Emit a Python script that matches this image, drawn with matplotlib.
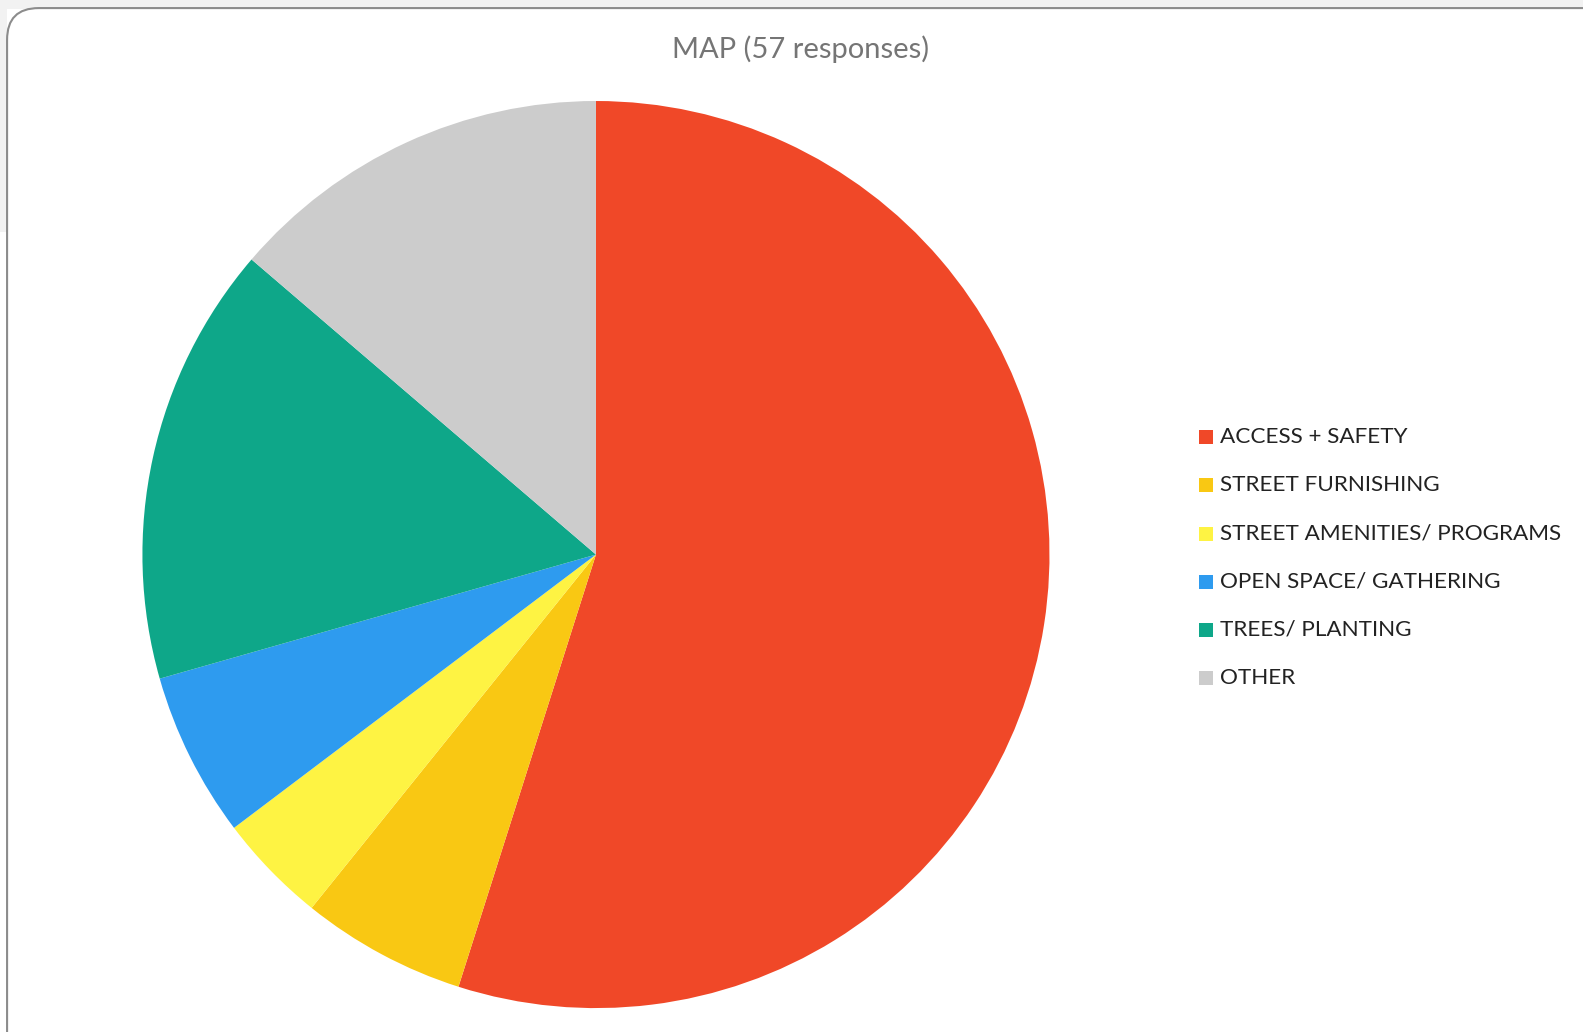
import matplotlib
matplotlib.use("Agg")
import matplotlib.pyplot as plt
from matplotlib.patches import FancyBboxPatch, Rectangle

# data
labels = ["ACCESS + SAFETY", "STREET FURNISHING", "STREET AMENITIES/ PROGRAMS",
          "OPEN SPACE/ GATHERING", "TREES/ PLANTING", "OTHER"]
counts = [28, 3, 2, 3, 8, 7]
colors = ["#F04828", "#F9C813", "#FEF343", "#2E9BEF", "#0EA789", "#CCCCCC"]
title = "MAP (57 responses)"

W, H = 1583, 1032
k = 1 / 0.99  # measured positions -> pixel positions
fig = plt.figure(figsize=(W / 100, H / 100), dpi=100)
plt.rcParams['font.family'] = ['Lato', 'DejaVu Sans']

# background bits outside the card
fig.patches.append(Rectangle((0, (H - 9 * k) / H), 1, 9 * k / H, transform=fig.transFigure,
                             facecolor="#F2F2F2", edgecolor="none", zorder=-3))
fig.patches.append(Rectangle((0, (H - 230 * k) / H), 7 * k / W, 230 * k / H, transform=fig.transFigure,
                             facecolor="#F2F2F2", edgecolor="none", zorder=-3))
# rounded card border
fig.patches.append(FancyBboxPatch((7 * k / W, -40 / H), (W + 40) / W, (H + 40 - 8 * k) / H,
                                  boxstyle="round,pad=0,rounding_size=0.02",
                                  transform=fig.transFigure, mutation_aspect=W / H,
                                  facecolor="white", edgecolor="#8C8C8C", lw=1.5, zorder=-2))

cx, cy, r = 590 * k, 549 * k, 449 * k
ax = fig.add_axes([(cx - r) / W, (H - cy - r) / H, 2 * r / W, 2 * r / H])
ax.pie(counts, colors=colors, startangle=90, counterclock=False, radius=1,
       wedgeprops=dict(linewidth=0))
ax.set_xlim(-1, 1)
ax.set_ylim(-1, 1)
ax.set_aspect("equal")
ax.axis("off")

fig.text(793 * k / W, (H - 49 * k) / H, title, ha="center", va="center", fontsize=21, color="#757575")

# legend
y0 = 433
step = 47.6
for i, (lab, col) in enumerate(zip(labels, colors)):
    y = (y0 + i * step) * k
    fig.patches.append(Rectangle((1187 * k / W, (H - y - 7) / H), 14 / W, 14 / H,
                                 transform=fig.transFigure, facecolor=col,
                                 edgecolor="none", zorder=3))
    fig.text(1208 * k / W, (H - y) / H, lab, ha="left", va="center", fontsize=16.2, color="#222222")

fig.savefig("out.png", dpi=100)
